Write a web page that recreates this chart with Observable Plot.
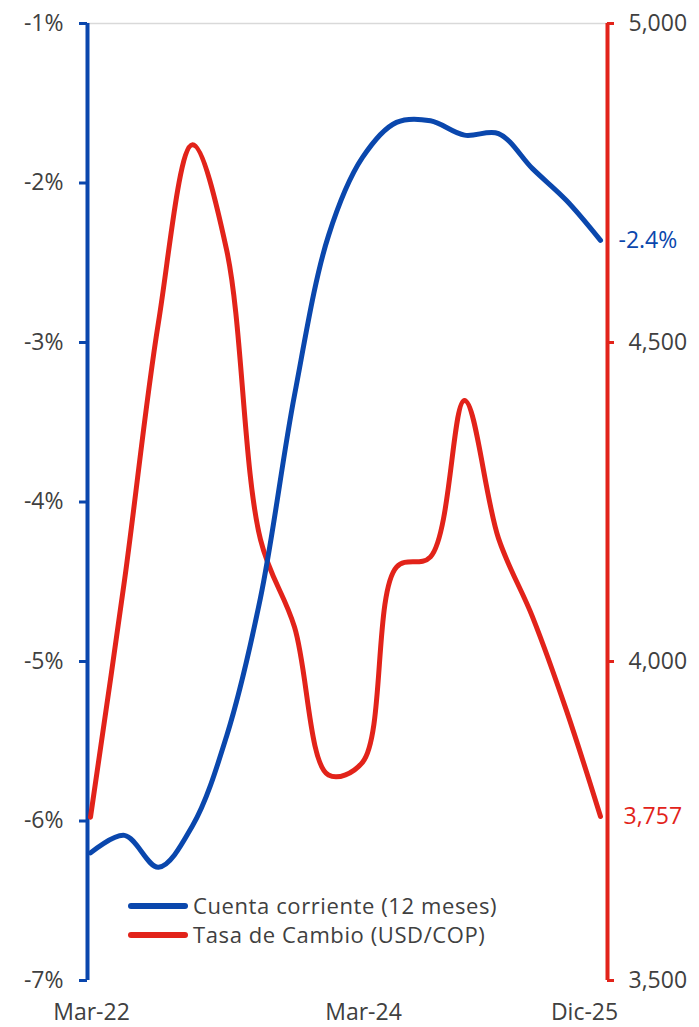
<!DOCTYPE html>
<html><head><meta charset="utf-8">
<script src="https://cdn.jsdelivr.net/npm/d3@7"></script>
<script src="https://cdn.jsdelivr.net/npm/@observablehq/plot@0.6"></script>
<style>
body{margin:0;background:#fff;}
#wrap{position:relative;width:699px;height:1027px;}
.leg{position:absolute;left:128px;top:891px;font-family:"Open Sans",sans-serif;font-size:22px;letter-spacing:0.6px;color:#404040;line-height:29px;}
.leg div{display:flex;align-items:center;white-space:nowrap;height:29px;}
.leg span.sw{display:inline-block;width:60px;height:6px;border-radius:3px;margin-right:5px;}
</style></head><body><div id="wrap"></div>
<script>
const quarters = ["Mar-22","Jun-22","Sep-22","Dic-22","Mar-23","Jun-23","Sep-23","Dic-23","Mar-24","Jun-24","Sep-24","Dic-24","Mar-25","Jun-25","Sep-25","Dic-25"];
const cuentaCorriente = [-6.20,-6.09,-6.29,-6.03,-5.47,-4.60,-3.33,-2.33,-1.84,-1.62,-1.61,-1.70,-1.69,-1.91,-2.11,-2.36];
const tasaCambio = [3756,4127,4532,4810,4646,4191,4054,3822,3842,4148,4164,4409,4193,4070,3923,3757];
const leftTicks = [-1,-2,-3,-4,-5,-6,-7];
const rightTicks = [5000,4500,4000,3500];
const xTickLabels = ["Mar-22","Mar-24","Dic-25"];
const seriesNames = ["Cuenta corriente (12 meses)","Tasa de Cambio (USD/COP)"];

const BLUE = "#0a47ad", RED = "#e2231a", TXT = "#404040";
const FS = 23;
const xmin = -3/34, xmax = 15 + 7/34;
const toLeft = r => -7 + (r - 3500) / 1500 * 6;
const fmt = d3.format(",");
const iq = q => quarters.indexOf(q);

const cc = cuentaCorriente.map((v,i)=>({i, v}));
const tc = tasaCambio.map((v,i)=>({i, v: toLeft(v)}));

const chart = Plot.plot({
  width: 699, height: 1027,
  marginTop: 23, marginBottom: 47, marginLeft: 87, marginRight: 92,
  style: {fontFamily: '"Open Sans", sans-serif', background: "#fff"},
  x: {type: "linear", domain: [xmin, xmax], axis: null},
  y: {domain: [-7, -1], axis: null},
  marks: [
    Plot.ruleY([-1], {x1: xmin, x2: xmax, stroke: "#d9d9d9", strokeWidth: 1.5}),
    Plot.ruleX([xmin], {stroke: BLUE, strokeWidth: 4}),
    Plot.ruleX([xmax], {stroke: RED, strokeWidth: 4}),
    Plot.ruleY(leftTicks, {y: d => d, x1: xmin - 8/34, x2: xmin, stroke: BLUE, strokeWidth: 3}),
    Plot.ruleY(rightTicks, {y: d => toLeft(d), x1: xmax, x2: xmax + 7/34, stroke: RED, strokeWidth: 3}),
    Plot.text(leftTicks, {x: xmin, y: d => d, text: d => d + "%", textAnchor: "end", dx: -24, fontSize: FS, fill: TXT}),
    Plot.text(rightTicks, {x: xmax, y: d => toLeft(d), text: d => fmt(d), textAnchor: "start", dx: 21, fontSize: FS, fill: TXT}),
    Plot.line(tc, {x: "i", y: "v", stroke: RED, strokeWidth: 5, curve: "catmull-rom"}),
    Plot.line(cc, {x: "i", y: "v", stroke: BLUE, strokeWidth: 5, curve: "catmull-rom"}),
    Plot.text([cc[cc.length-1]], {x: "i", y: "v", text: d => d.v.toFixed(1) + "%", textAnchor: "start", dx: 18, fontSize: FS, fill: BLUE}),
    Plot.text([tc[tc.length-1]], {x: "i", y: "v", text: () => fmt(tasaCambio[tasaCambio.length-1]), textAnchor: "start", dx: 23, fontSize: FS, fill: RED}),
    Plot.text(xTickLabels.slice(0,2), {x: d => iq(d), y: -7, text: d => d, dy: 32, dx: 1, fontSize: FS, fill: TXT}),
    Plot.text(xTickLabels.slice(2), {x: d => iq(d), y: -7, text: d => d, dy: 32, dx: -16, fontSize: FS, fill: TXT})
  ]
});
const wrap = document.getElementById("wrap");
wrap.appendChild(chart);
const leg = document.createElement("div");
leg.className = "leg";
leg.innerHTML = `<div><span class="sw" style="background:${BLUE}"></span>${seriesNames[0]}</div><div><span class="sw" style="background:${RED}"></span>${seriesNames[1]}</div>`;
wrap.appendChild(leg);
</script>
</body></html>
